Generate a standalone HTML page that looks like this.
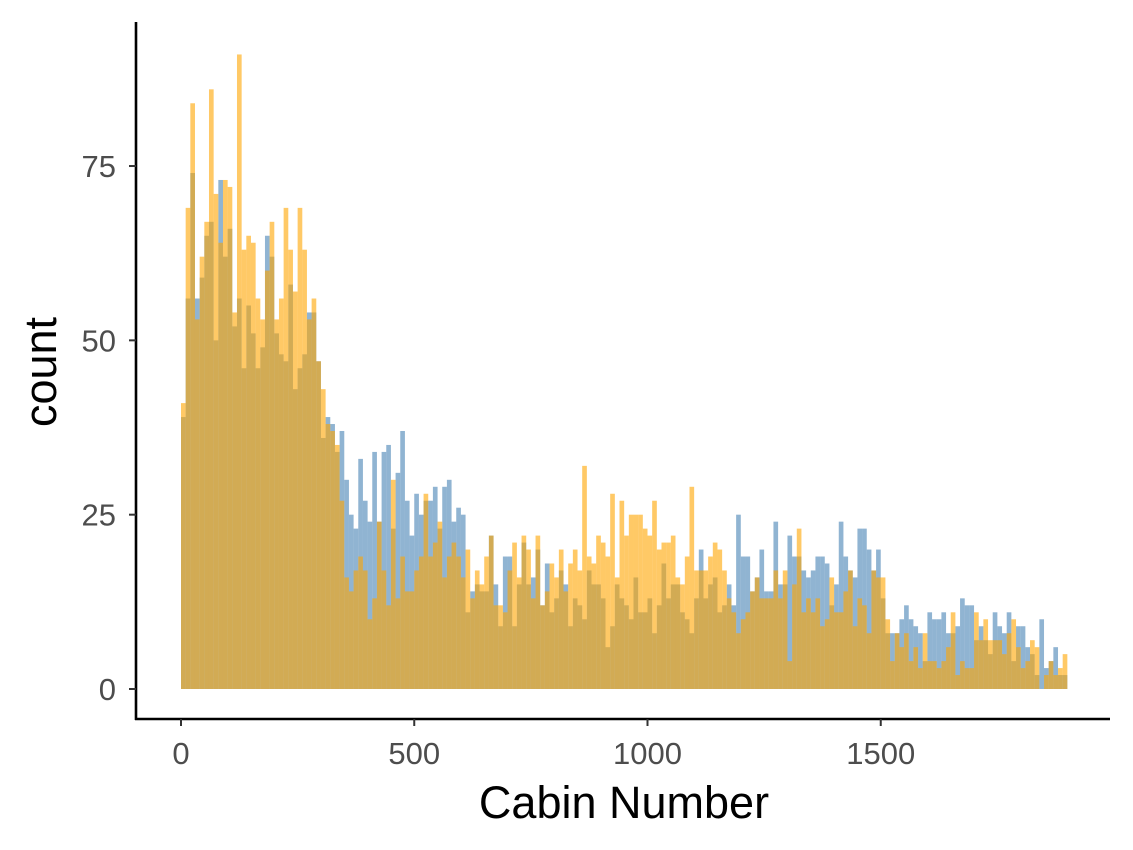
<!DOCTYPE html>
<html><head><meta charset="utf-8"><style>
html,body{margin:0;padding:0;background:#fff;}
svg{display:block;font-family:"Liberation Sans",Arial,sans-serif;}
</style></head><body>
<svg id="chart" width="1133" height="850" viewBox="0 0 1133 850">
<g id="bars-blue"></g>
<g id="bars-orange"></g>
<g id="axes"></g>
</svg>
<script>
const binWidth = 10;
const orangeCounts = [41,69,84,53,62,67,86,71,64,73,72,54,91,63,65,64,56,53,60,67,53,56,69,63,57,69,63,53,56,47,43,
38,37,35,27,16,14,17,19,17,10,13,24,17,12,30,13,19,14,14,17,19,28,19,21,24,16,19,21,19,16,20,
13,17,15,19,22,12,12,11,17,21,16,22,20,13,22,12,14,18,16,20,14,18,20,17,32,19,18,22,21,19,28,
16,27,22,25,25,25,23,22,27,20,21,21,22,16,15,19,29,17,17,17,19,21,20,17,13,11,8,10,11,14,16,
13,13,13,17,13,17,4,15,23,11,13,11,13,9,10,16,11,11,14,17,9,13,12,8,17,16,16,10,4,8,6,
8,4,6,3,8,4,4,3,4,6,11,2,4,3,3,11,7,10,7,7,7,5,8,10,6,3,4,7,6,0,2,4,2,3,5];
const blueCounts = [39,56,74,56,59,65,67,50,73,62,66,52,56,46,55,51,46,49,65,62,51,48,47,58,43,46,48,54,54,47,36,
39,38,34,37,30,25,23,33,27,24,34,24,34,35,23,31,37,27,22,28,25,27,27,29,23,29,30,24,26,25,11,
14,15,14,14,22,15,9,19,19,9,15,21,15,16,20,12,18,11,13,17,15,9,13,12,10,17,15,15,13,6,9,
15,13,12,10,16,11,11,13,8,12,18,13,15,15,11,10,8,13,20,13,15,16,11,12,15,12,25,19,19,14,16,
20,14,14,24,15,15,22,19,19,17,16,17,19,19,18,12,15,24,19,17,16,23,23,20,17,20,13,8,8,8,10,
12,10,9,8,4,11,10,10,11,8,8,9,13,12,12,7,9,7,5,11,9,8,11,4,9,9,6,5,2,10,3,4,6,2,2];
const xTicks = [0,500,1000,1500];
const yTicks = [0,25,50,75];

const NS = "http://www.w3.org/2000/svg";
function xs(v){ return 181 + v*0.4665; }
function ys(v){ return 689 - v*6.973; }
function mk(tag, attrs, parent){
  const e = document.createElementNS(NS, tag);
  for (const k in attrs) e.setAttribute(k, attrs[k]);
  parent.appendChild(e);
  return e;
}
function drawSeries(counts, gid, color, name){
  const g = document.getElementById(gid);
  counts.forEach((c,i)=>{
    const x0 = xs(i*binWidth), x1 = xs((i+1)*binWidth);
    const r = mk('rect',{x:x0,y:ys(c),width:x1-x0,height:ys(0)-ys(c),fill:color,'fill-opacity':0.6},g);
    
    
  });
}
drawSeries(blueCounts,'bars-blue','#4682B4','blue');
drawSeries(orangeCounts,'bars-orange','#FFA500','orange');

const ax = document.getElementById('axes');
const yl = mk('line',{x1:136,y1:22,x2:136,y2:720,stroke:'#000','stroke-width':2.6},ax);


const xl = mk('line',{x1:135,y1:719,x2:1110,y2:719,stroke:'#000','stroke-width':2.6},ax);


yTicks.forEach(v=>{
  mk('line',{x1:129,y1:ys(v),x2:136,y2:ys(v),stroke:'#333','stroke-width':2},ax);
  const t = mk('text',{x:116,y:ys(v)+11,'text-anchor':'end','font-size':31,fill:'#4D4D4D'},ax);
  t.textContent = v;
  
  
});
xTicks.forEach(v=>{
  mk('line',{x1:xs(v),y1:719,x2:xs(v),y2:726,stroke:'#333','stroke-width':2},ax);
  const t = mk('text',{x:xs(v),y:764,'text-anchor':'middle','font-size':31,fill:'#4D4D4D'},ax);
  t.textContent = v;
  
  
});
const xt = mk('text',{x:624,y:818,'text-anchor':'middle','font-size':45,fill:'#000'},ax);
xt.textContent = 'Cabin Number';


const yt = mk('text',{x:0,y:0,'text-anchor':'middle','font-size':45,fill:'#000',transform:'translate(56,372) rotate(-90)'},ax);
yt.textContent = 'count';


</script>
</body></html>
